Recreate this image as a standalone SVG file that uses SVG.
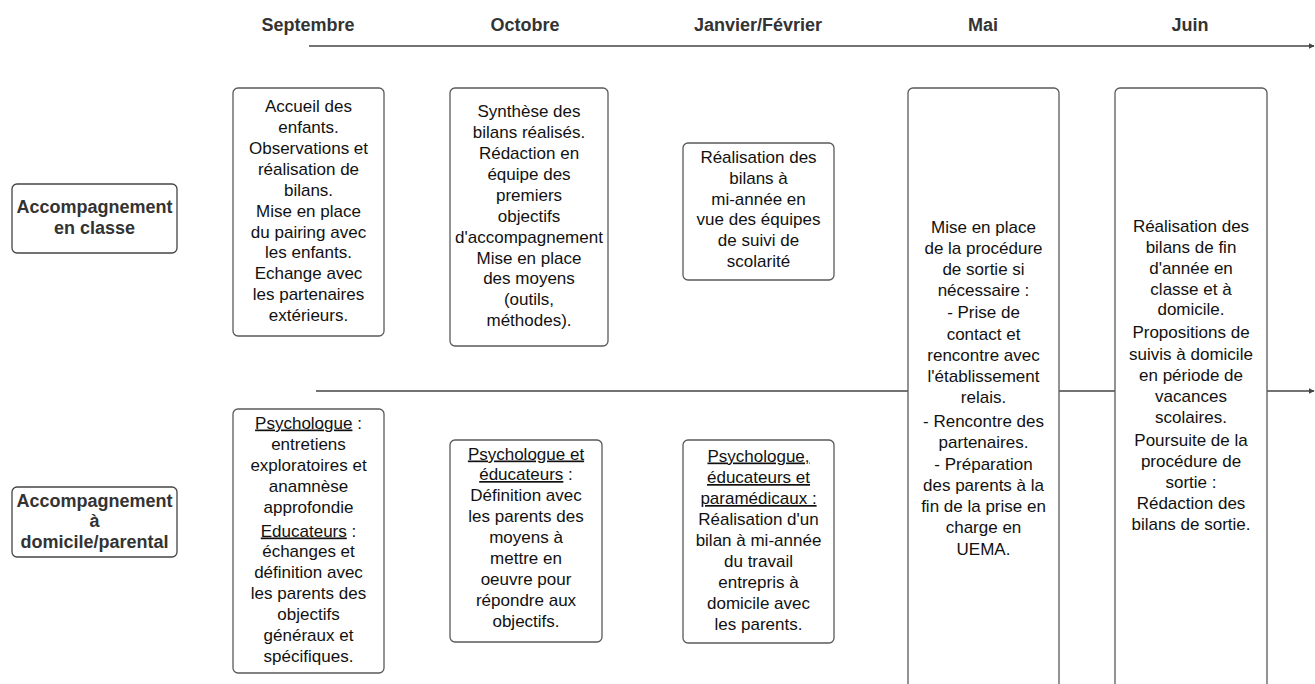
<svg xmlns="http://www.w3.org/2000/svg" width="1315" height="684" viewBox="0 0 1315 684">
<style>
.hdr{font-family:"Liberation Sans",Arial,sans-serif;font-weight:bold;font-size:18px;fill:#333;text-anchor:middle}
.lbl{font-family:"Liberation Sans",Arial,sans-serif;font-weight:bold;font-size:18px;fill:#333;text-anchor:middle}
.txt{font-family:"Liberation Sans",Arial,sans-serif;font-size:17px;fill:#111;text-anchor:middle}
.box{fill:#fff;stroke:#5a5a5a;stroke-width:1.3}
.lbox{fill:#fff;stroke:#444;stroke-width:1.3}
.tl{fill:none;stroke:#444;stroke-width:1.5}
.u{text-decoration:underline}
</style>
<defs>
<marker id="arr" viewBox="0 0 10 10" refX="9" refY="5" markerWidth="6" markerHeight="6" markerUnits="userSpaceOnUse" orient="auto">
<path d="M0,0 L10,5 L0,10 z" fill="#444"/>
</marker>
</defs>
<rect width="1315" height="684" fill="#fff"/>

<g id="headers">
<text class="hdr" x="308" y="31">Septembre</text>
<text class="hdr" x="525" y="31">Octobre</text>
<text class="hdr" x="758" y="31">Janvier/Février</text>
<text class="hdr" x="983" y="31">Mai</text>
<text class="hdr" x="1190" y="31">Juin</text>
</g>

<g id="connectors">
<line class="tl" x1="309" y1="46" x2="1314" y2="46" marker-end="url(#arr)"/>
<line class="tl" x1="316" y1="391" x2="1314" y2="391" marker-end="url(#arr)"/>
</g>

<g id="label-classe">
<rect class="lbox" x="12" y="184" width="165" height="69" rx="5"/>
<text class="lbl" x="94.5" y="213">Accompagnement</text>
<text class="lbl" x="94.5" y="234">en classe</text>
</g>

<g id="label-domicile">
<rect class="lbox" x="12" y="487" width="165" height="70" rx="5"/>
<text class="lbl" x="94.5" y="507">Accompagnement</text>
<text class="lbl" x="94.5" y="527">à</text>
<text class="lbl" x="94.5" y="548">domicile/parental</text>
</g>

<g id="sept-classe">
<rect class="box" x="233" y="88" width="151" height="248" rx="5"/>
<text class="txt" x="308.5" y="112">Accueil des</text>
<text class="txt" x="308.5" y="133">enfants.</text>
<text class="txt" x="308.5" y="154">Observations et</text>
<text class="txt" x="308.5" y="175">réalisation de</text>
<text class="txt" x="308.5" y="195.5">bilans.</text>
<text class="txt" x="308.5" y="216.5">Mise en place</text>
<text class="txt" x="308.5" y="237.5">du pairing avec</text>
<text class="txt" x="308.5" y="258">les enfants.</text>
<text class="txt" x="308.5" y="279">Echange avec</text>
<text class="txt" x="308.5" y="300">les partenaires</text>
<text class="txt" x="308.5" y="320.5">extérieurs.</text>
</g>

<g id="oct-classe">
<rect class="box" x="450" y="88" width="158" height="258" rx="5"/>
<text class="txt" x="529" y="117">Synthèse des</text>
<text class="txt" x="529" y="138">bilans réalisés.</text>
<text class="txt" x="529" y="159">Rédaction en</text>
<text class="txt" x="529" y="180">équipe des</text>
<text class="txt" x="529" y="200.5">premiers</text>
<text class="txt" x="529" y="221.5">objectifs</text>
<text class="txt" x="529" y="242.5">d'accompagnement</text>
<text class="txt" x="529" y="263.5">Mise en place</text>
<text class="txt" x="529" y="284">des moyens</text>
<text class="txt" x="529" y="305">(outils,</text>
<text class="txt" x="529" y="325.5">méthodes).</text>
</g>

<g id="jan-classe">
<rect class="box" x="683" y="143" width="151" height="137" rx="5"/>
<text class="txt" x="758.5" y="163">Réalisation des</text>
<text class="txt" x="758.5" y="184">bilans à</text>
<text class="txt" x="758.5" y="204.5">mi-année en</text>
<text class="txt" x="758.5" y="225">vue des équipes</text>
<text class="txt" x="758.5" y="246">de suivi de</text>
<text class="txt" x="758.5" y="266.5">scolarité</text>
</g>

<g id="mai">
<rect class="box" x="908" y="88" width="151" height="610" rx="5"/>
<text class="txt" x="983.5" y="233">Mise en place</text>
<text class="txt" x="983.5" y="254">de la procédure</text>
<text class="txt" x="983.5" y="275">de sortie si</text>
<text class="txt" x="983.5" y="296">nécessaire :</text>
<text class="txt" x="983.5" y="318">- Prise de</text>
<text class="txt" x="983.5" y="340">contact et</text>
<text class="txt" x="983.5" y="361">rencontre avec</text>
<text class="txt" x="983.5" y="382">l'établissement</text>
<text class="txt" x="983.5" y="403">relais.</text>
<text class="txt" x="983.5" y="426.5">- Rencontre des</text>
<text class="txt" x="983.5" y="447.5">partenaires.</text>
<text class="txt" x="983.5" y="470">- Préparation</text>
<text class="txt" x="983.5" y="491">des parents à la</text>
<text class="txt" x="983.5" y="512">fin de la prise en</text>
<text class="txt" x="983.5" y="533">charge en</text>
<text class="txt" x="983.5" y="555">UEMA.</text>
</g>

<g id="juin">
<rect class="box" x="1115" y="88" width="152" height="610" rx="5"/>
<text class="txt" x="1191" y="231.5">Réalisation des</text>
<text class="txt" x="1191" y="252.5">bilans de fin</text>
<text class="txt" x="1191" y="273.5">d'année en</text>
<text class="txt" x="1191" y="294.5">classe et à</text>
<text class="txt" x="1191" y="315">domicile.</text>
<text class="txt" x="1191" y="338">Propositions de</text>
<text class="txt" x="1191" y="359.5">suivis à domicile</text>
<text class="txt" x="1191" y="381">en période de</text>
<text class="txt" x="1191" y="401.5">vacances</text>
<text class="txt" x="1191" y="423">scolaires.</text>
<text class="txt" x="1191" y="446">Poursuite de la</text>
<text class="txt" x="1191" y="466.5">procédure de</text>
<text class="txt" x="1191" y="487.5">sortie :</text>
<text class="txt" x="1191" y="508.5">Rédaction des</text>
<text class="txt" x="1191" y="529.5">bilans de sortie.</text>
</g>

<g id="sept-domicile">
<rect class="box" x="233" y="409" width="151" height="264" rx="5"/>
<text class="txt" x="308.5" y="428.5"><tspan class="u">Psychologue</tspan> :</text>
<text class="txt" x="308.5" y="450">entretiens</text>
<text class="txt" x="308.5" y="471">exploratoires et</text>
<text class="txt" x="308.5" y="492">anamnèse</text>
<text class="txt" x="308.5" y="512.5">approfondie</text>
<text class="txt" x="308.5" y="536.5"><tspan class="u">Educateurs</tspan> :</text>
<text class="txt" x="308.5" y="557">échanges et</text>
<text class="txt" x="308.5" y="578">définition avec</text>
<text class="txt" x="308.5" y="599">les parents des</text>
<text class="txt" x="308.5" y="620">objectifs</text>
<text class="txt" x="308.5" y="640.5">généraux et</text>
<text class="txt" x="308.5" y="661.5">spécifiques.</text>
</g>

<g id="oct-domicile">
<rect class="box" x="450" y="440" width="152" height="202" rx="5"/>
<text class="txt" x="526" y="459.5"><tspan class="u">Psychologue et</tspan></text>
<text class="txt" x="526" y="480"><tspan class="u">éducateurs</tspan> :</text>
<text class="txt" x="526" y="501">Définition avec</text>
<text class="txt" x="526" y="522">les parents des</text>
<text class="txt" x="526" y="543">moyens à</text>
<text class="txt" x="526" y="564">mettre en</text>
<text class="txt" x="526" y="585">oeuvre pour</text>
<text class="txt" x="526" y="606">répondre aux</text>
<text class="txt" x="526" y="626.5">objectifs.</text>
</g>

<g id="jan-domicile">
<rect class="box" x="683" y="440" width="151" height="203" rx="5"/>
<text class="txt" x="758.5" y="461.5"><tspan class="u">Psychologue,</tspan></text>
<text class="txt" x="758.5" y="483"><tspan class="u">éducateurs et</tspan></text>
<text class="txt" x="758.5" y="504"><tspan class="u">paramédicaux :</tspan></text>
<text class="txt" x="758.5" y="525">Réalisation d'un</text>
<text class="txt" x="758.5" y="546">bilan à mi-année</text>
<text class="txt" x="758.5" y="567">du travail</text>
<text class="txt" x="758.5" y="588">entrepris à</text>
<text class="txt" x="758.5" y="609">domicile avec</text>
<text class="txt" x="758.5" y="629.5">les parents.</text>
</g>
</svg>
